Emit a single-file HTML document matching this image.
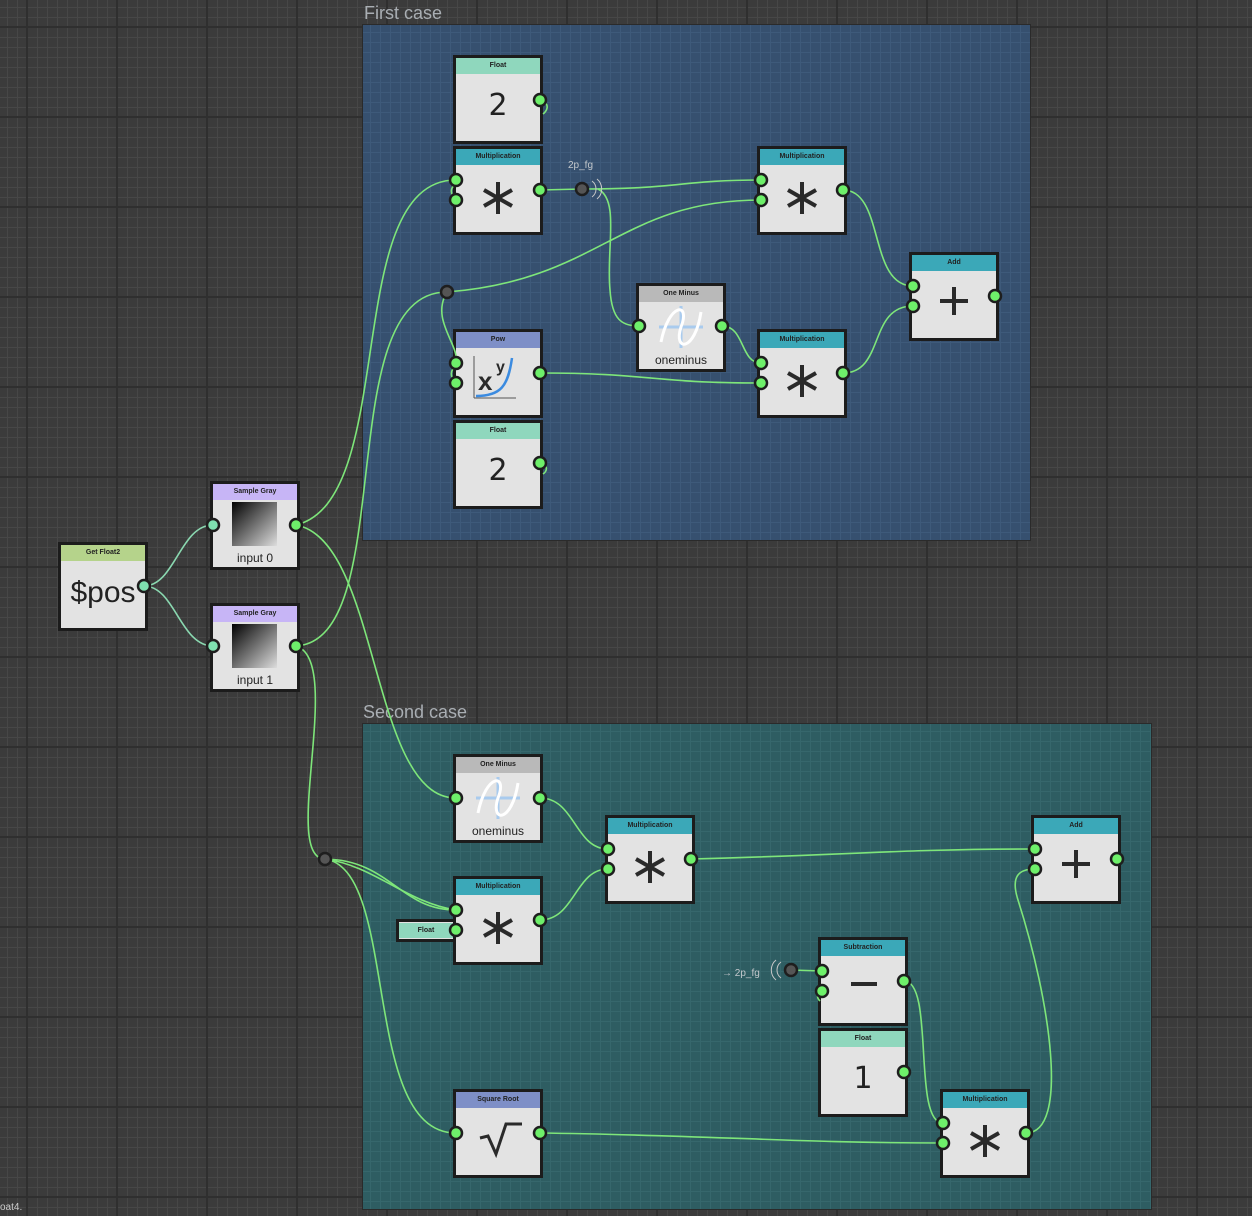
<!DOCTYPE html>
<html><head><meta charset="utf-8"><style>
*{box-sizing:border-box;margin:0;padding:0}
body{width:1252px;height:1216px;overflow:hidden;position:relative;font-family:"Liberation Sans",sans-serif;
background-color:#3b3b3b;
background-image:linear-gradient(90deg,#2f2f2f 2px,transparent 2px),linear-gradient(#2f2f2f 2px,transparent 2px),linear-gradient(90deg,#474747 1px,transparent 1px),linear-gradient(#474747 1px,transparent 1px);
background-size:90px 90px,90px 90px,10px 10px,10px 10px;background-position:26px 26px,26px 26px,7px 7px,7px 7px}
.grp{position:absolute;border:1px solid #2a2a2a}
.g1{left:362px;top:24px;width:669px;height:517px;background-color:#36506f;
background-image:linear-gradient(90deg,#3e5a7a 1px,transparent 1px),linear-gradient(#3e5a7a 1px,transparent 1px);background-size:10px 10px;background-position:7px 7px}
.g2{left:362px;top:723px;width:790px;height:487px;background-color:#2e5d62;
background-image:linear-gradient(90deg,#36676c 1px,transparent 1px),linear-gradient(#36676c 1px,transparent 1px);background-size:10px 10px;background-position:7px 7px}
.gl{position:absolute;color:#a9aeb3;font-size:18px}
.n{position:absolute;width:90px;height:89px;background:#e3e3e3;border:3px solid #1c1c1c;text-align:center;color:#222}
.h{height:16px;font-size:7px;font-weight:bold;line-height:16px;color:#222}
.b{position:relative;height:67px}
.v{font-size:30px;line-height:64px;font-family:"DejaVu Sans",sans-serif}
.lab{font-size:12px;position:absolute;left:0;right:0;bottom:2px}
svg.w{position:absolute;left:0;top:0}
</style></head><body>
<div class="grp g1"></div><div class="grp g2"></div>
<div class="gl" style="left:364px;top:3px">First case</div>
<div class="gl" style="left:363px;top:702px">Second case</div>
<div style="position:absolute;left:0;top:1202px;color:#ccc;font-size:10px">oat4.</div>

<div class="n" style="left:453px;top:55px"><div class="h" style="background:#8fd7bd">Float</div><div class="b v">2</div></div>
<div class="n" style="left:453px;top:146px"><div class="h" style="background:#3ba8b8">Multiplication</div><div class="b"><svg width="84" height="67"><g stroke="#2a2a2a" stroke-width="4"><line x1="42" y1="17" x2="42" y2="49"/><line x1="28" y1="25" x2="56" y2="41"/><line x1="28" y1="41" x2="56" y2="25"/></g></svg></div></div>
<div class="n" style="left:757px;top:146px"><div class="h" style="background:#3ba8b8">Multiplication</div><div class="b"><svg width="84" height="67"><g stroke="#2a2a2a" stroke-width="4"><line x1="42" y1="17" x2="42" y2="49"/><line x1="28" y1="25" x2="56" y2="41"/><line x1="28" y1="41" x2="56" y2="25"/></g></svg></div></div>
<div class="n" style="left:909px;top:252px"><div class="h" style="background:#3ba8b8">Add</div><div class="b"><svg width="84" height="67"><g stroke="#2a2a2a" stroke-width="4"><line x1="42" y1="16" x2="42" y2="44"/><line x1="28" y1="30" x2="56" y2="30"/></g></svg></div></div>
<div class="n" style="left:636px;top:283px"><div class="h" style="background:#b9b9b9">One Minus</div><div class="b"><svg width="84" height="67"><g stroke="#a9cbee" stroke-width="3"><line x1="42" y1="4" x2="42" y2="46"/><line x1="20" y1="25" x2="64" y2="25"/></g><path d="M22 40 C30 0,52 0,42 25 C34 50,56 50,62 10" fill="none" stroke="#fff" stroke-width="3"/></svg><div class="lab">oneminus</div></div></div>
<div class="n" style="left:757px;top:329px"><div class="h" style="background:#3ba8b8">Multiplication</div><div class="b"><svg width="84" height="67"><g stroke="#2a2a2a" stroke-width="4"><line x1="42" y1="17" x2="42" y2="49"/><line x1="28" y1="25" x2="56" y2="41"/><line x1="28" y1="41" x2="56" y2="25"/></g></svg></div></div>
<div class="n" style="left:453px;top:329px"><div class="h" style="background:#7e8fc7">Pow</div><div class="b"><svg width="84" height="67"><g stroke="#555" stroke-width="1"><line x1="18" y1="8" x2="18" y2="50"/><line x1="18" y1="50" x2="60" y2="50"/></g><path d="M20 48 C45 48,52 38,56 10" fill="none" stroke="#3b8be0" stroke-width="2.5"/><text x="22" y="42" font-size="26" font-weight="bold" fill="#2a2a2a" font-family="Liberation Sans">x</text><text x="40" y="24" font-size="16" font-weight="bold" fill="#2a2a2a" font-family="Liberation Sans">y</text></svg></div></div>
<div class="n" style="left:453px;top:420px"><div class="h" style="background:#8fd7bd">Float</div><div class="b v">2</div></div>

<div class="n" style="left:58px;top:542px"><div class="h" style="background:#b5d38b">Get Float2</div><div class="b v" style="font-family:'Liberation Sans',sans-serif;font-size:30px">$pos</div></div>
<div class="n" style="left:210px;top:481px"><div class="h" style="background:#c7b5f6">Sample Gray</div><div class="b"><div style="position:absolute;left:19px;top:2px;width:45px;height:44px;background:linear-gradient(135deg,#000,#ddd)"></div><div class="lab">input 0</div></div></div>
<div class="n" style="left:210px;top:603px"><div class="h" style="background:#c7b5f6">Sample Gray</div><div class="b"><div style="position:absolute;left:19px;top:2px;width:45px;height:44px;background:linear-gradient(135deg,#000,#ddd)"></div><div class="lab">input 1</div></div></div>

<div class="n" style="left:453px;top:754px"><div class="h" style="background:#b9b9b9">One Minus</div><div class="b"><svg width="84" height="67"><g stroke="#a9cbee" stroke-width="3"><line x1="42" y1="4" x2="42" y2="46"/><line x1="20" y1="25" x2="64" y2="25"/></g><path d="M22 40 C30 0,52 0,42 25 C34 50,56 50,62 10" fill="none" stroke="#fff" stroke-width="3"/></svg><div class="lab">oneminus</div></div></div>
<div class="n" style="left:605px;top:815px"><div class="h" style="background:#3ba8b8">Multiplication</div><div class="b"><svg width="84" height="67"><g stroke="#2a2a2a" stroke-width="4"><line x1="42" y1="17" x2="42" y2="49"/><line x1="28" y1="25" x2="56" y2="41"/><line x1="28" y1="41" x2="56" y2="25"/></g></svg></div></div>
<div class="n" style="left:1031px;top:815px"><div class="h" style="background:#3ba8b8">Add</div><div class="b"><svg width="84" height="67"><g stroke="#2a2a2a" stroke-width="4"><line x1="42" y1="16" x2="42" y2="44"/><line x1="28" y1="30" x2="56" y2="30"/></g></svg></div></div>
<div class="n" style="left:453px;top:876px"><div class="h" style="background:#3ba8b8">Multiplication</div><div class="b"><svg width="84" height="67"><g stroke="#2a2a2a" stroke-width="4"><line x1="42" y1="17" x2="42" y2="49"/><line x1="28" y1="25" x2="56" y2="41"/><line x1="28" y1="41" x2="56" y2="25"/></g></svg></div></div>
<div class="n" style="left:396px;top:919px;width:60px;height:23px;padding-top:1px"><div class="h" style="background:#8fd7bd;height:15px;line-height:15px">Float</div></div>
<div class="n" style="left:818px;top:937px"><div class="h" style="background:#3ba8b8">Subtraction</div><div class="b"><svg width="84" height="67"><line x1="30" y1="28" x2="56" y2="28" stroke="#2a2a2a" stroke-width="4"/></svg></div></div>
<div class="n" style="left:818px;top:1028px"><div class="h" style="background:#8fd7bd">Float</div><div class="b v">1</div></div>
<div class="n" style="left:453px;top:1089px"><div class="h" style="background:#7e8fc7">Square Root</div><div class="b"><svg width="84" height="67"><path d="M24 30 L32 28 L40 46 L50 16 L66 16" fill="none" stroke="#2a2a2a" stroke-width="3"/></svg></div></div>
<div class="n" style="left:940px;top:1089px"><div class="h" style="background:#3ba8b8">Multiplication</div><div class="b"><svg width="84" height="67"><g stroke="#2a2a2a" stroke-width="4"><line x1="42" y1="17" x2="42" y2="49"/><line x1="28" y1="25" x2="56" y2="41"/><line x1="28" y1="41" x2="56" y2="25"/></g></svg></div></div>

<svg class="w" width="1252" height="1216">
<g fill="none" stroke="#7ee67a" stroke-width="1.6">
<path stroke="#8ad8b0" d="M144 586 C175 586,180 525,213 525"/>
<path stroke="#8ad8b0" d="M144 586 C175 586,180 646,213 646"/>
<path d="M296 525 C400 500,340 180,456 180"/>
<path d="M296 525 C380 540,370 798,456 798"/>
<path d="M296 646 C400 640,330 292,447 292"/>
<path d="M447 292 C600 280,620 200,761 200"/>
<path d="M447 292 C430 320,460 345,456 363"/>
<path d="M296 646 C345 660,280 859,325 859"/>
<path d="M325 859 C390 860,400 910,456 910"/>
<path d="M325 859 C375 866,405 902,456 910"/>
<path d="M325 859 C400 870,360 1133,456 1133"/>
<path d="M540 190 L582 189"/>
<path d="M582 189 C680 189,680 180,761 180"/>
<path d="M598 189 C620 200,606 250,610 290 C612 320,622 326,639 326"/>
<path d="M843 190 C885 190,868 286,913 286"/>
<path d="M843 373 C885 373,868 306,913 306"/>
<path d="M722 326 C745 326,740 363,761 363"/>
<path d="M540 373 C650 373,650 383,761 383"/>
<path d="M540 100 C552 104,546 112,543 114"/>
<path d="M540 463 C550 466,546 472,543 474"/>
<path d="M456 200 C449 193,451 188,455 184"/>
<path d="M456 383 C449 376,451 370,455 367"/>
<path d="M540 798 C575 798,575 849,608 849"/>
<path d="M540 920 C575 920,575 869,608 869"/>
<path d="M691 859 C850 855,900 849,1035 849"/>
<path d="M1026 1133 C1070 1133,1050 1000,1018 900 C1010 875,1020 869,1035 869"/>
<path d="M791 970 L822 971"/>
<path d="M904 981 C935 981,912 1123,943 1123"/>
<path d="M540 1133 C700 1135,800 1143,943 1143"/>
<path d="M822 991 C816 995,817 998,820 1001"/>
</g>
<g fill="none" stroke="#c8c8c8" stroke-width="1">
<path d="M592 181 A10 10 0 0 1 592 197"/><path d="M597 179 A13 13 0 0 1 597 199"/>
<path d="M781 962 A10 10 0 0 0 781 978"/><path d="M776 960 A13 13 0 0 0 776 980"/>
</g>
<text x="568" y="168" font-size="10" fill="#c3c8cc" font-family="Liberation Sans">2p_fg</text>
<text x="722" y="976" font-size="10" fill="#c3c8cc" font-family="Liberation Sans">→ 2p_fg</text>
<g fill="#555" stroke="#1e1e1e" stroke-width="2.5">
<circle cx="582" cy="189" r="6"/><circle cx="791" cy="970" r="6"/><circle cx="447" cy="292" r="6"/><circle cx="325" cy="859" r="6"/>
</g>
<g fill="#6ef06a" stroke="#1e1e1e" stroke-width="2.5">
<circle cx="540" cy="100" r="6"/><circle cx="456" cy="180" r="6"/><circle cx="456" cy="200" r="6"/><circle cx="540" cy="190" r="6"/>
<circle cx="761" cy="180" r="6"/><circle cx="761" cy="200" r="6"/><circle cx="843" cy="190" r="6"/>
<circle cx="913" cy="286" r="6"/><circle cx="913" cy="306" r="6"/><circle cx="995" cy="296" r="6"/>
<circle cx="639" cy="326" r="6"/><circle cx="722" cy="326" r="6"/>
<circle cx="761" cy="363" r="6"/><circle cx="761" cy="383" r="6"/><circle cx="843" cy="373" r="6"/>
<circle cx="456" cy="363" r="6"/><circle cx="456" cy="383" r="6"/><circle cx="540" cy="373" r="6"/>
<circle cx="540" cy="463" r="6"/>
<circle cx="296" cy="525" r="6"/><circle cx="296" cy="646" r="6"/>
<circle cx="456" cy="798" r="6"/><circle cx="540" cy="798" r="6"/>
<circle cx="608" cy="849" r="6"/><circle cx="608" cy="869" r="6"/><circle cx="691" cy="859" r="6"/>
<circle cx="1035" cy="849" r="6"/><circle cx="1035" cy="869" r="6"/><circle cx="1117" cy="859" r="6"/>
<circle cx="456" cy="910" r="6"/><circle cx="456" cy="930" r="6"/><circle cx="540" cy="920" r="6"/>
<circle cx="822" cy="971" r="6"/><circle cx="822" cy="991" r="6"/><circle cx="904" cy="981" r="6"/>
<circle cx="904" cy="1072" r="6"/>
<circle cx="456" cy="1133" r="6"/><circle cx="540" cy="1133" r="6"/>
<circle cx="943" cy="1123" r="6"/><circle cx="943" cy="1143" r="6"/><circle cx="1026" cy="1133" r="6"/>
</g>
<g fill="#7fe0b0" stroke="#1e1e1e" stroke-width="2.5">
<circle cx="144" cy="586" r="6"/><circle cx="213" cy="525" r="6"/><circle cx="213" cy="646" r="6"/>
</g>
</svg>
</body></html>
